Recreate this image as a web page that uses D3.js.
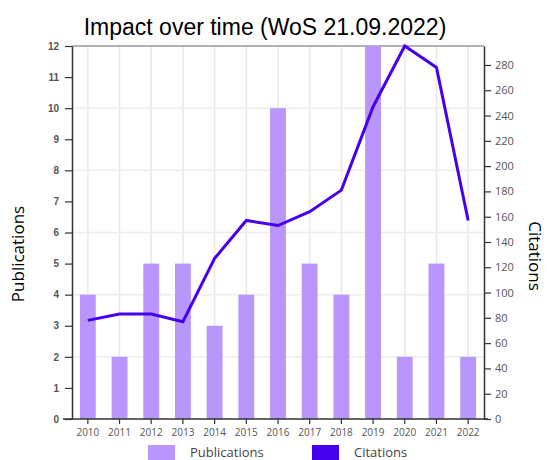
<!DOCTYPE html>
<html>
<head>
<meta charset="utf-8">
<script src="https://cdn.jsdelivr.net/npm/d3@7"></script>
<style>
  body { margin: 0; background: #fff; }
  svg { display: block; }
</style>
</head>
<body>
<div id="chart"></div>
<script>
const years = ['2010','2011','2012','2013','2014','2015','2016','2017','2018','2019','2020','2021','2022']
const publications = [4, 2, 5, 5, 3, 4, 10, 5, 4, 12, 2, 5, 2]
const citations = [78, 83, 83, 77, 127, 157, 153, 164, 181, 247, 295, 278, 157]
const pubTicks = [0, 1, 2, 3, 4, 5, 6, 7, 8, 9, 10, 11, 12]
const citTicks = [0, 20, 40, 60, 80, 100, 120, 140, 160, 180, 200, 220, 240, 260, 280]

const width = 547
const height = 460
const mLeft = 72, mRight = 484, mTop = 46, mBottom = 419

const BAR = '#b896fc'
const LINE = '#4600ee'

const svg = d3.select('#chart')
  .append('svg')
    .attr('width', width)
    .attr('height', height)

const x = d3.scaleBand()
  .domain(years)
  .range([mLeft, mRight])
  .padding(0)

const yPub = d3.scaleLinear()
  .domain([0, 12])
  .range([mBottom, mTop])

const yCit = d3.scaleLinear()
  .domain([0, 295])
  .range([mBottom, mTop])

const cx = d => x(d) + x.bandwidth() / 2

// grid
svg.append('g')
  .selectAll('line')
  .data(years)
  .join('line')
    .attr('x1', cx)
    .attr('x2', cx)
    .attr('y1', mTop)
    .attr('y2', mBottom)
    .attr('stroke', '#e8e8e8')
    .attr('stroke-width', 1.5)

svg.append('g')
  .selectAll('line')
  .data([2, 4, 6, 8, 10])
  .join('line')
    .attr('x1', mLeft)
    .attr('x2', mRight)
    .attr('y1', d => yPub(d))
    .attr('y2', d => yPub(d))
    .attr('stroke', '#ececec')
    .attr('stroke-width', 1.5)

// top border
svg.append('line')
  .attr('x1', mLeft).attr('x2', mRight)
  .attr('y1', yPub(12)).attr('y2', yPub(12))
  .attr('stroke', '#999')
  .attr('stroke-width', 1.5)

// bars
const bw = x.bandwidth() * 0.5
svg.append('g')
  .selectAll('rect')
  .data(years)
  .join('rect')
    .attr('x', d => x(d) + (x.bandwidth() - bw) / 2)
    .attr('width', bw)
    .attr('y', (d, i) => yPub(publications[i]))
    .attr('height', (d, i) => mBottom - yPub(publications[i]))
    .attr('fill', BAR)

// line
const line = d3.line()
  .x((d, i) => cx(years[i]))
  .y(d => yCit(d))

svg.append('path')
  .datum(citations)
  .attr('d', line)
  .attr('fill', 'none')
  .attr('stroke', LINE)
  .attr('stroke-width', 3)

// axes
const styleAxis = (g) => {
  g.select('.domain').attr('stroke', '#333').attr('stroke-width', 1.5)
  g.selectAll('.tick line').attr('stroke', '#333').attr('stroke-width', 1.2)
}

svg.append('g')
  .attr('transform', `translate(${mLeft},0)`)
  .call(d3.axisLeft(yPub).tickValues(pubTicks).tickSize(7).tickSizeOuter(0).tickPadding(6))
  .call(styleAxis)
  .call(g => g.selectAll('text')
    .attr('font-family', 'Liberation Sans, Arial, sans-serif')
    .attr('font-weight', 'bold')
    .attr('font-size', 10)
    .attr('fill', '#555'))

svg.append('g')
  .attr('transform', `translate(${mRight},0)`)
  .call(d3.axisRight(yCit).tickValues(citTicks).tickSize(7).tickSizeOuter(0).tickPadding(4))
  .call(styleAxis)
  .call(g => g.selectAll('text')
    .attr('font-family', 'Open Sans, sans-serif')
    .attr('font-size', 11)
    .attr('fill', '#555'))

svg.append('g')
  .attr('transform', `translate(0,${mBottom})`)
  .call(d3.axisBottom(x).tickSize(5).tickSizeOuter(0).tickPadding(5))
  .call(styleAxis)
  .call(g => g.select('.domain').attr('d', `M${mLeft - 9},0H${mRight + 4}`))
  .call(g => g.selectAll('text')
    .attr('font-family', 'Open Sans, sans-serif')
    .attr('font-size', 10)
    .attr('fill', '#555'))

// title
svg.append('text')
  .attr('x', 265)
  .attr('y', 35)
  .attr('text-anchor', 'middle')
  .attr('font-family', 'Liberation Sans, Arial, sans-serif')
  .attr('font-size', 23)
  .attr('fill', '#000')
  .text('Impact over time (WoS 21.09.2022)')

// axis titles
svg.append('text')
  .attr('transform', 'translate(24,254) rotate(-90)')
  .attr('text-anchor', 'middle')
  .attr('font-family', 'Open Sans, sans-serif')
  .attr('font-size', 17)
  .attr('fill', '#000')
  .text('Publications')

svg.append('text')
  .attr('transform', 'translate(529,256) rotate(90)')
  .attr('text-anchor', 'middle')
  .attr('font-family', 'Open Sans, sans-serif')
  .attr('font-size', 17)
  .attr('fill', '#000')
  .text('Citations')

// legend
const legend = [
  { name: 'Publications', color: BAR, x: 148 },
  { name: 'Citations', color: LINE, x: 312 }
]
const lg = svg.append('g')
  .selectAll('g')
  .data(legend)
  .join('g')
    .attr('transform', d => `translate(${d.x},445)`)
lg.append('rect')
  .attr('width', 27)
  .attr('height', 15)
  .attr('fill', d => d.color)
lg.append('text')
  .attr('x', 42)
  .attr('y', 12)
  .attr('font-family', 'Open Sans, sans-serif')
  .attr('font-size', 13)
  .attr('fill', '#444')
  .text(d => d.name)
</script>
</body>
</html>
